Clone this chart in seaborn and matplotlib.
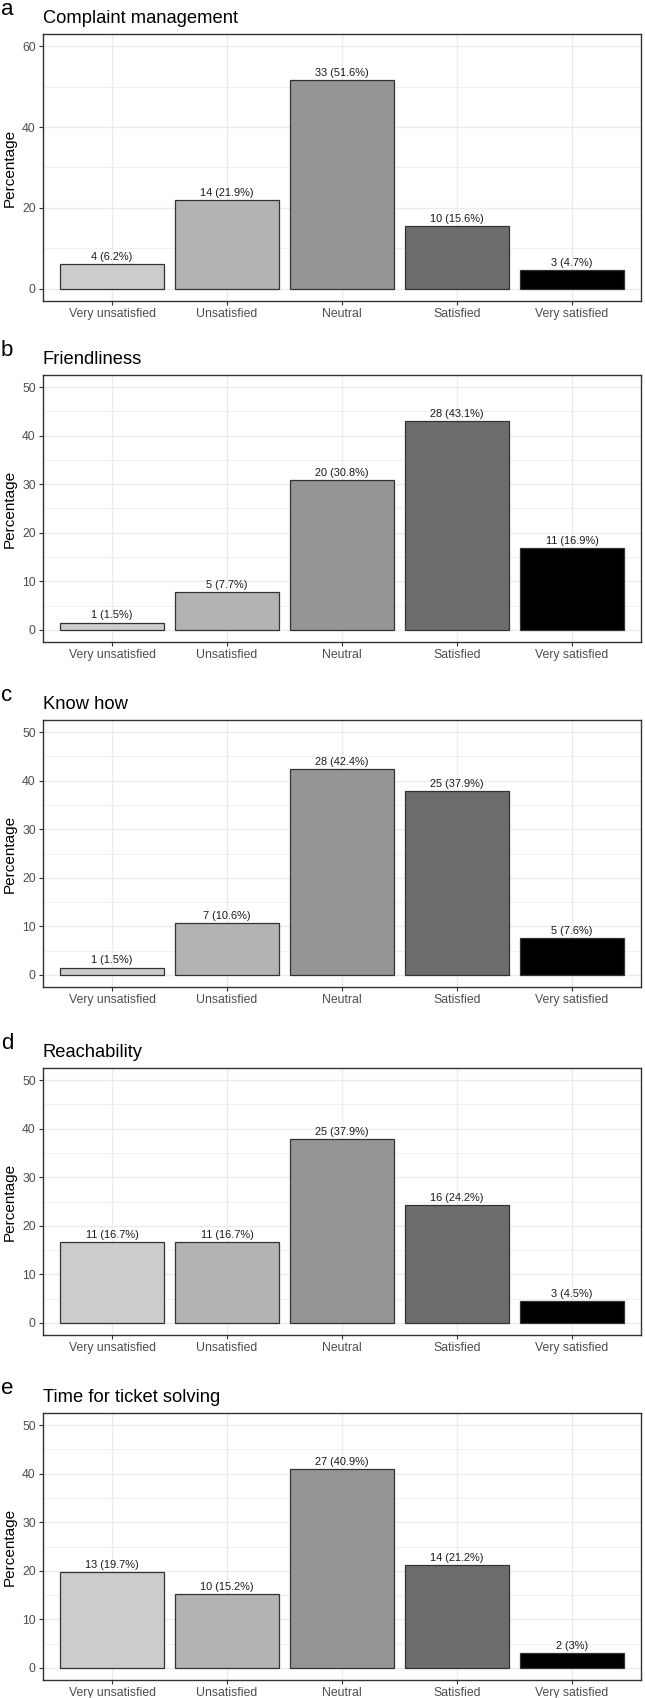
import numpy as np
import pandas as pd
import seaborn as sns
import matplotlib.pyplot as plt

# Catégories et données
categories = ["Very unsatisfied", "Unsatisfied", "Neutral", "Satisfied", "Very satisfied"]
panel_letters = ["a", "b", "c", "d", "e"]
panel_titles = ["Complaint management", "Friendliness", "Know how",
                "Reachability", "Time for ticket solving"]

counts_a = [4, 14, 33, 10, 3]
pct_a = [6.2, 21.9, 51.6, 15.6, 4.7]
counts_b = [1, 5, 20, 28, 11]
pct_b = [1.5, 7.7, 30.8, 43.1, 16.9]
counts_c = [1, 7, 28, 25, 5]
pct_c = [1.5, 10.6, 42.4, 37.9, 7.6]
counts_d = [11, 11, 25, 16, 3]
pct_d = [16.7, 16.7, 37.9, 24.2, 4.5]
counts_e = [13, 10, 27, 14, 2]
pct_e = [19.7, 15.2, 40.9, 21.2, 3]

y_max = [60, 50, 50, 50, 50]
y_step = [20, 10, 10, 10, 10]

grey_fill = ["#CCCCCC", "#B3B3B3", "#959595", "#6D6D6D", "#000000"]

sns.set_theme(style="white")
plt.rcParams["font.family"] = ["Liberation Sans", "DejaVu Sans"]

W, H = 645, 1698
fig = plt.figure(figsize=(W / 100, H / 100), dpi=100)

tops = [34, 375, 720, 1068, 1413]
ax_h = 267
left, right = 43, 641

panels = [(counts_a, pct_a), (counts_b, pct_b), (counts_c, pct_c),
          (counts_d, pct_d), (counts_e, pct_e)]

for i, (counts, pct) in enumerate(panels):
    top = tops[i]
    ax = fig.add_axes([left / W, 1 - (top + ax_h) / H, (right - left) / W, ax_h / H])
    df = pd.DataFrame({"cat": categories, "pct": pct})
    sns.barplot(data=df, x="cat", y="pct", hue="cat", palette=grey_fill,
                order=categories, hue_order=categories, legend=False,
                width=0.9, edgecolor="#333333", linewidth=0.9, saturation=1,
                ax=ax, zorder=3)

    # Étiquettes "n (x%)"
    labels = [f"{n} ({p:g}%)" for n, p in zip(counts, pct)]
    for j, cont in enumerate(ax.containers):
        ax.bar_label(cont, labels=[labels[j]], padding=1.5, fontsize=7.9,
                     color="#1a1a1a")

    ym = y_max[i]
    ax.set_ylim(-0.05 * ym, 1.05 * ym)
    ax.set_xlim(-0.6, 4.6)
    major = np.arange(0, ym + 1, y_step[i])
    minor = major[:-1] + y_step[i] / 2
    ax.set_yticks(major)
    ax.set_yticks(minor, minor=True)
    ax.tick_params(axis="y", which="minor", length=0)
    ax.tick_params(axis="both", which="major", length=3, width=0.8,
                   color="#333333", labelsize=8.8, labelcolor="#4D4D4D",
                   pad=2.2, direction="out", left=True, bottom=True)
    ax.grid(True, which="major", color="#EBEBEB", linewidth=1.0, zorder=0)
    ax.grid(True, which="minor", axis="y", color="#EBEBEB", linewidth=0.5, zorder=0)
    ax.set_axisbelow(True)
    for sp in ax.spines.values():
        sp.set_visible(True)
        sp.set_color("#333333")
        sp.set_linewidth(1.0)

    ax.set_xlabel("")
    ax.set_ylabel("Percentage", fontsize=11, color="black", labelpad=4)

    # Titre et lettre du panneau
    fig.text(left / W, 1 - (top - 11) / H, panel_titles[i], fontsize=13.2,
             ha="left", va="baseline", color="black")
    fig.text(1 / W, 1 - (top - 19) / H, panel_letters[i], fontsize=16,
             ha="left", va="baseline", color="black")

fig.savefig("out.png", dpi=100)
